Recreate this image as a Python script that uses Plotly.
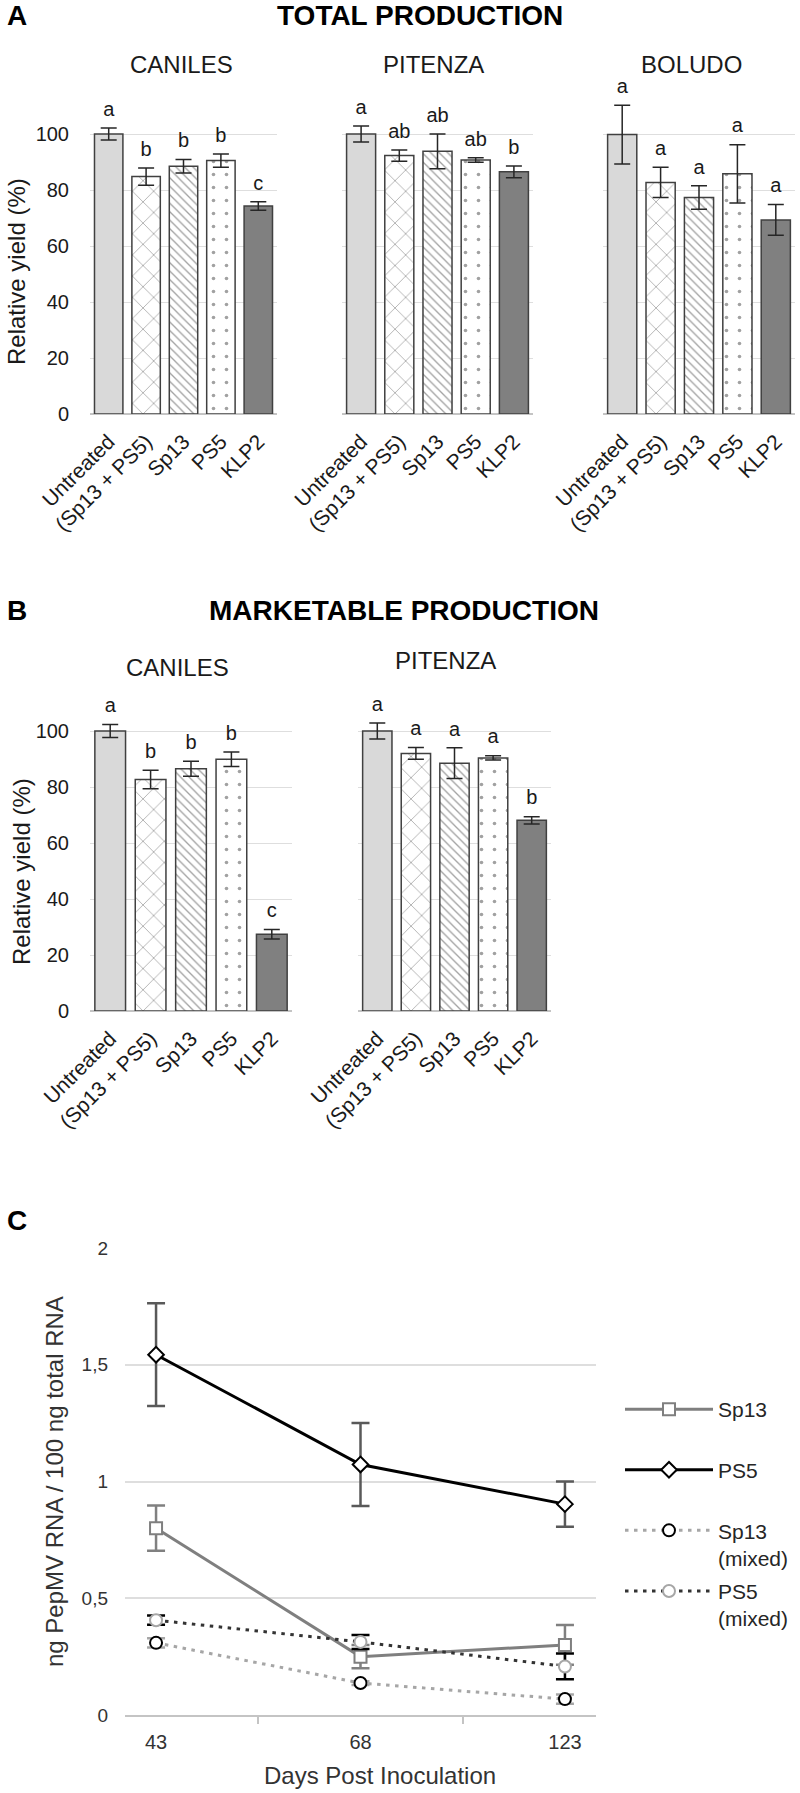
import plotly.graph_objects as go

W, H = 800, 1793
FONT = "Liberation Sans, Arial, sans-serif"

# ---------------- data ----------------
treatments = ["Untreated", "(Sp13 + PS5)", "Sp13", "PS5", "KLP2"]

total_caniles = [100, 84.8, 88.5, 90.5, 74.3]
total_caniles_err = [2.1, 3.1, 2.4, 2.4, 1.5]
total_caniles_letters = ["a", "b", "b", "b", "c"]

total_pitenza = [100, 92.3, 93.8, 90.7, 86.5]
total_pitenza_err = [2.9, 2.0, 6.2, 0.8, 2.1]
total_pitenza_letters = ["a", "ab", "ab", "ab", "b"]

total_boludo = [99.8, 82.7, 77.3, 85.8, 69.3]
total_boludo_err = [10.5, 5.4, 4.2, 10.4, 5.5]
total_boludo_letters = ["a", "a", "a", "a", "a"]

market_caniles = [100, 82.7, 86.5, 89.9, 27.4]
market_caniles_err = [2.3, 3.3, 2.7, 2.6, 1.7]
market_caniles_letters = ["a", "b", "b", "b", "c"]

market_pitenza = [100, 92.0, 88.5, 90.4, 68.1]
market_pitenza_err = [2.9, 2.1, 5.5, 0.8, 1.3]
market_pitenza_letters = ["a", "a", "a", "a", "b"]

yield_ticks = [0, 20, 40, 60, 80, 100]

days = ["43", "68", "123"]
sp13 = [0.80, 0.25, 0.30]
sp13_err = [0.097, 0.05, 0.085]
ps5 = [1.543, 1.073, 0.903]
ps5_err = [0.22, 0.178, 0.097]
sp13_mixed = [0.309, 0.137, 0.068]
sp13_mixed_err = [0.02, 0.008, 0.02]
ps5_mixed = [0.406, 0.313, 0.208]
ps5_mixed_err = [0.02, 0.03, 0.055]

rna_tickvals = [0, 0.5, 1, 1.5, 2]
rna_ticktext = ["0", "0,5", "1", "1,5", "2"]

# ---------------- styles ----------------
bar_fill = ["#d9d9d9", "white", "white", "white", "#808080"]
bar_pattern = ["", "x", "\\", ".", ""]
bar_pattern_size = [8, 15, 6, 13, 8]
bar_pattern_solidity = [0.2, 0.1, 0.22, 0.06, 0.2]

Y_TOP = 125  # axis range top, so letters above 100 % stay visible


def px_x(px):
    return px / W


def px_y(py):
    return 1 - py / H


fig = go.Figure()
annotations = []

# (idx, values, errors, letters, x-extent px, (pixel of 100 %, pixel of 0 %))
panels = [
    (1, total_caniles, total_caniles_err, total_caniles_letters, (90, 277), (134, 414)),
    (2, total_pitenza, total_pitenza_err, total_pitenza_letters, (342, 533), (134, 414)),
    (3, total_boludo, total_boludo_err, total_boludo_letters, (603, 795), (134, 414)),
    (4, market_caniles, market_caniles_err, market_caniles_letters, (90, 292), (731, 1011)),
    (5, market_pitenza, market_pitenza_err, market_pitenza_letters, (358, 551), (731, 1011)),
]

layout_axes = {}
for idx, vals, errs, letters, (x0, x1), (p100, p0) in panels:
    xa = "x" if idx == 1 else f"x{idx}"
    ya = "y" if idx == 1 else f"y{idx}"
    ptop = p0 - (p0 - p100) * Y_TOP / 100.0
    fig.add_trace(go.Bar(
        x=treatments, y=vals,
        xaxis=xa, yaxis=ya,
        width=0.76,
        marker=dict(
            color=bar_fill,
            line=dict(color="#404040", width=1.5),
            pattern=dict(shape=bar_pattern, size=bar_pattern_size,
                         solidity=bar_pattern_solidity, fgcolor="#bcbcbc"),
        ),
        error_y=dict(type="data", array=errs, color="#262626", thickness=1.5, width=8),
        showlegend=False,
        hoverinfo="skip",
    ))
    # significance letters, placed on top of each error bar
    fig.add_trace(go.Scatter(
        x=treatments, y=[v + e for v, e in zip(vals, errs)],
        xaxis=xa, yaxis=ya, mode="markers+text", text=letters,
        marker=dict(size=10, color="rgba(0,0,0,0)"),
        textposition="top center",
        textfont=dict(size=20, color="#1a1a1a"),
        showlegend=False, hoverinfo="skip",
    ))
    layout_axes["xaxis" if idx == 1 else f"xaxis{idx}"] = dict(
        domain=[px_x(x0), px_x(x1)], anchor=ya, type="category",
        tickangle=-45, tickfont=dict(size=21, color="#1a1a1a"),
        showgrid=False, showline=False, zeroline=False,
        ticks="outside", ticklen=6, tickcolor="rgba(0,0,0,0)",
        automargin=False, fixedrange=True,
    )
    layout_axes["yaxis" if idx == 1 else f"yaxis{idx}"] = dict(
        domain=[px_y(p0), px_y(ptop)], anchor=xa, range=[0, Y_TOP],
        tickvals=yield_ticks, showticklabels=(idx in (1, 4)),
        tickfont=dict(size=20, color="#1a1a1a"),
        ticklabelstandoff=20,
        gridcolor="#dedede", gridwidth=1,
        zeroline=True, zerolinecolor="#c4c4c4", zerolinewidth=2,
        showline=False, automargin=False, fixedrange=True,
    )

# ---------------- panel C ----------------
# every legend entry uses two text lines so all entries are evenly spaced
line_series = [
    ("Sp13<br> ", sp13, sp13_err, "#7f7f7f", "solid", "square", "#7f7f7f", "#808080"),
    ("PS5<br> ", ps5, ps5_err, "#000000", "solid", "diamond", "#000000", "#595959"),
    ("Sp13<br>(mixed)", sp13_mixed, sp13_mixed_err, "#a6a6a6", "3.5px,5.5px", "circle", "#000000", "#a6a6a6"),
    ("PS5<br>(mixed)", ps5_mixed, ps5_mixed_err, "#333333", "3.5px,5.5px", "circle", "#a6a6a6", "#000000"),
]
for i, (name, vals, errs, lc, dash, sym, mc, ec) in enumerate(line_series):
    fig.add_trace(go.Scatter(
        x=days, y=vals, name=name, mode="lines+markers",
        xaxis="x6", yaxis="y6", legendgroup=f"g{i}",
        line=dict(color=lc, width=3, dash=dash),
        marker=dict(symbol=sym, size=12,
                    color="white", line=dict(color=mc, width=2)),
        error_y=dict(type="data", array=errs, color=ec, thickness=2.5, width=9),
        cliponaxis=False,
        hoverinfo="skip",
    ))

layout_axes["xaxis6"] = dict(
    domain=[px_x(125), px_x(596)], anchor="y6", type="category",
    showline=True, linecolor="#c4c4c4", linewidth=2,
    ticks="outside", tickson="boundaries", ticklen=7, tickcolor="#c4c4c4", tickwidth=2,
    tickfont=dict(size=20, color="#333333"), showgrid=False, zeroline=False,
    ticklabelstandoff=8, automargin=False, fixedrange=True,
)
layout_axes["yaxis6"] = dict(
    domain=[px_y(1715), px_y(1248)], anchor="x6", range=[0, 2],
    tickvals=rna_tickvals, ticktext=rna_ticktext,
    tickfont=dict(size=19, color="#333333"), ticklabelstandoff=16,
    gridcolor="#dedede", gridwidth=1.5, zeroline=False, showline=False,
    automargin=False, fixedrange=True,
)

# ---------------- texts ----------------
def text_ann(text, x, y, size, bold=False, angle=0, xanchor="center", color="#000000"):
    return dict(
        text=text, x=px_x(x), y=px_y(y), xref="paper", yref="paper",
        showarrow=False, xanchor=xanchor, yanchor="middle", textangle=angle,
        font=dict(size=size, family=FONT, color=color, weight="bold" if bold else "normal"),
    )

annotations += [
    text_ann("A", 5, 16, 28, bold=True, xanchor="left"),
    text_ann("TOTAL PRODUCTION", 420, 16, 28, bold=True),
    text_ann("CANILES", 181, 64, 24, color="#1a1a1a"),
    text_ann("PITENZA", 433, 64, 24, color="#1a1a1a"),
    text_ann("BOLUDO", 691, 64, 24, color="#1a1a1a"),
    text_ann("Relative yield (%)", 16, 272, 24, angle=-90, color="#1a1a1a"),
    text_ann("B", 5, 610, 28, bold=True, xanchor="left"),
    text_ann("MARKETABLE PRODUCTION", 404, 610, 28, bold=True),
    text_ann("CANILES", 177, 667, 24, color="#1a1a1a"),
    text_ann("PITENZA", 445, 660, 24, color="#1a1a1a"),
    text_ann("Relative yield (%)", 21, 872, 24, angle=-90, color="#1a1a1a"),
    text_ann("C", 5, 1220, 28, bold=True, xanchor="left"),
    text_ann("ng PepMV RNA / 100 ng total RNA", 54, 1482, 24, angle=-90, color="#333333"),
    text_ann("Days Post Inoculation", 380, 1775, 24, color="#333333"),
]

fig.update_layout(
    width=W, height=H,
    margin=dict(l=0, r=0, t=0, b=0, autoexpand=False),
    paper_bgcolor="white", plot_bgcolor="white",
    font=dict(family=FONT, color="#1a1a1a"),
    barmode="group",
    hovermode=False,
    annotations=annotations,
    legend=dict(
        x=px_x(620), y=px_y(1389), xanchor="left", yanchor="top",
        font=dict(size=21, family=FONT, color="#262626"),
        itemwidth=88, valign="top", bgcolor="rgba(0,0,0,0)",
        borderwidth=0, tracegroupgap=3, traceorder="grouped",
        itemclick=False, itemdoubleclick=False,
    ),
    **layout_axes,
)

fig.write_html(
    "out.html",
    config={"displayModeBar": False},
    post_script="document.body.style.margin='0';document.body.style.padding='0';"
                "document.body.style.overflow='hidden';",
)
